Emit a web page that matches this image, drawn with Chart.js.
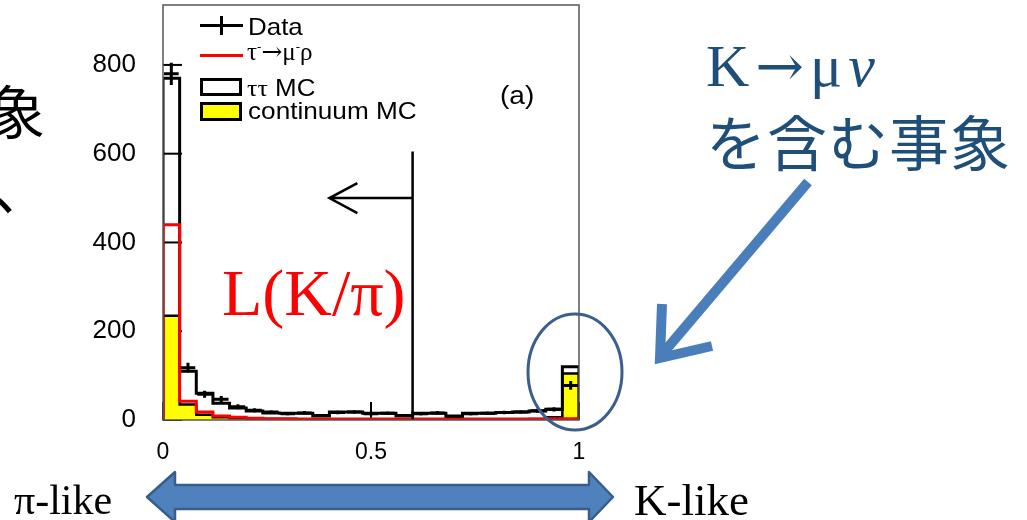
<!DOCTYPE html>
<html>
<head>
<meta charset="utf-8">
<script src="https://cdn.jsdelivr.net/npm/chart.js@4.4.1/dist/chart.umd.min.js"></script>
<style>
  html, body { margin: 0; padding: 0; background: #fff; }
  #wrap { position: relative; width: 1027px; height: 520px; overflow: hidden; }
  #wrap canvas { position: absolute; left: 0; top: 0; }
  .t { position: absolute; white-space: nowrap; line-height: 1; transform-origin: 0 0; }
  .sans { font-family: 'Liberation Sans', Arial, sans-serif; }
  .serif { font-family: 'Liberation Serif', 'Times New Roman', serif; }
  .cjk { font-family: 'Noto Sans CJK JP', sans-serif; }
  .arr { font-family: 'DejaVu Serif', serif; }
  .sym { position: absolute; box-sizing: border-box; }
</style>
</head>
<body>
<div id="wrap">
  <canvas id="histChart" width="1027" height="520"></canvas>

  <!-- legend -->
  <div class="sym" style="left:200px;top:24px;width:43px;height:3px;background:#000"></div>
  <div class="sym" style="left:220px;top:16px;width:3px;height:19px;background:#000"></div>
  <div class="t sans" style="left:248px;top:15px;font-size:24px;transform:scaleX(1.08)">Data</div>
  <div class="sym" style="left:200px;top:54px;width:43px;height:3px;background:#ff0000"></div>
  <div class="t serif" style="left:247px;top:39px;font-size:25px">τ<sup style="font-size:13px">-</sup><span class="arr" style="font-size:25px">→</span>μ<sup style="font-size:13px">-</sup>ρ</div>
  <div class="sym" style="left:200px;top:78px;width:42px;height:18px;border:3px solid #000;background:#fff"></div>
  <div class="t" style="left:247px;top:76px;font-size:24px;transform:scaleX(1.08)"><span class="serif">ττ</span><span class="sans"> MC</span></div>
  <div class="sym" style="left:200px;top:102px;width:42px;height:19px;border:3px solid #000;background:#ffff00"></div>
  <div class="t sans" style="left:248px;top:99px;font-size:24px;transform:scaleX(1.09)">continuum MC</div>
  <div class="t sans" style="left:500px;top:83px;font-size:25px;transform:scaleX(1.12)">(a)</div>

  <!-- annotations -->
  <div class="t serif" style="left:222px;top:260px;font-size:66px;color:#ff0000">L(K/π)</div>
  <div class="t serif" style="left:706px;top:36px;font-size:60px;color:#1f4e79;letter-spacing:6px">K<span class="arr" style="font-size:58px">→</span>μ<i>ν</i></div>
  <div class="t cjk" style="left:706px;top:110px;font-size:60px;color:#1f4e79;letter-spacing:1px">を含む事象</div>
  <div class="t cjk" style="left:-13px;top:80px;font-size:58px;color:#000">象</div>
  <div class="t cjk" style="left:-8px;top:156px;font-size:58px;color:#000">、</div>
  <div class="t serif" style="left:14px;top:479px;font-size:42px">π-like</div>
  <div class="t serif" style="left:634px;top:478px;font-size:45px">K-like</div>
</div>

<script>
// histogram bins (0.04 wide) of the likelihood ratio L(K/pi)
const binEdges = [0, 0.04, 0.08, 0.12, 0.16, 0.2, 0.24, 0.28, 0.32, 0.36, 0.4, 0.44, 0.48,
                  0.52, 0.56, 0.6, 0.64, 0.68, 0.72, 0.76, 0.8, 0.84, 0.88, 0.92, 0.96, 1];

const dataValues = [780, 118, 58, 47, 30, 22, 18, 14, 16, 10, 17, 18, 14,
                    15, 10, 14, 16, 9, 14, 15, 17, 18, 21, 24, 78];
const dataErrors = [25, 11, 8, 7, 5.5, 4.7, 4.2, 3.7, 4, 3.2, 4.1, 4.2, 3.7,
                    3.9, 3.2, 3.7, 4, 3, 3.7, 3.9, 4.1, 4.2, 4.6, 4.9, 10];
const tautauMC = [770, 110, 60, 38, 27, 20, 16, 15, 15, 9, 18, 18, 15,
                  15, 9, 15, 15, 8, 15, 15, 17, 18, 20, 24, 120];
const signalMC = [440, 42, 18, 9, 6, 4, 3, 3, 2, 2, 2, 2, 2,
                  2, 2, 2, 2, 2, 2, 2, 2, 2, 2, 3, 3];
const continuumMC = [235, 35, 12, 6, 4, 3, 2, 2, 1, 1, 1, 1, 1,
                     1, 1, 1, 1, 1, 1, 1, 1, 1, 2, 6, 105];

const yTicks = [0, 200, 400, 600, 800];
const xTicks = [0, 0.5, 1];
const xTickLabels = ['0', '0.5', '1'];

// selection cut
const cutValue = 0.6;
const cutTop = 605;
const cutArrowY = 500;
const cutArrowTo = 0.4;

// outline of a histogram as step points (left edge of each bin)
const stepPoints = (vals) => {
    const last = binEdges.length - 1;
    const pts = [{ x: binEdges[0], y: 0 }];
    vals.forEach((v, i) => pts.push({ x: binEdges[i], y: v }));
    pts.push({ x: binEdges[last], y: vals[vals.length - 1] });
    pts.push({ x: binEdges[last], y: 0 });
    return pts;
};

const lineSet = (label, vals, color, order, extra) => Object.assign({
    type: 'line',
    label: label,
    data: stepPoints(vals),
    stepped: 'before',
    borderColor: color,
    borderWidth: 3,
    pointRadius: 0,
    fill: false,
    order: order
}, extra || {});

const histPlugin = {
    id: 'histDecor',
    beforeDatasetsDraw(chart) {
        const { ctx, chartArea: a, scales: { x, y } } = chart;
        ctx.save();
        ctx.strokeStyle = '#000';
        ctx.lineWidth = 2;
        // inward tick marks
        yTicks.forEach(v => {
            const py = y.getPixelForValue(v);
            ctx.beginPath();
            ctx.moveTo(a.left, py);
            ctx.lineTo(a.left + 19, py);
            ctx.stroke();
        });
        xTicks.forEach(v => {
            const px = x.getPixelForValue(v);
            ctx.beginPath();
            ctx.moveTo(px, a.bottom);
            ctx.lineTo(px, a.bottom - 18);
            ctx.stroke();
        });
        ctx.restore();
    },
    afterDatasetsDraw(chart) {
        const { ctx, chartArea: a, scales: { x, y } } = chart;
        ctx.save();
        // data points with error bars
        ctx.strokeStyle = '#000';
        ctx.lineWidth = 3;
        dataValues.forEach((v, i) => {
            const x0 = x.getPixelForValue(binEdges[i]);
            const x1 = x.getPixelForValue(binEdges[i + 1]);
            const xc = (x0 + x1) / 2;
            const py = y.getPixelForValue(v);
            ctx.beginPath();
            ctx.moveTo(x0 + 1, py);
            ctx.lineTo(x1 - 1, py);
            ctx.moveTo(xc, y.getPixelForValue(v - dataErrors[i]));
            ctx.lineTo(xc, y.getPixelForValue(v + dataErrors[i]));
            ctx.stroke();
        });

        // cut line and arrow
        const cx = x.getPixelForValue(cutValue);
        const ay = y.getPixelForValue(cutArrowY);
        const tx = x.getPixelForValue(cutArrowTo);
        ctx.lineWidth = 2.5;
        ctx.beginPath();
        ctx.moveTo(cx, y.getPixelForValue(0));
        ctx.lineTo(cx, y.getPixelForValue(cutTop));
        ctx.moveTo(cx, ay);
        ctx.lineTo(tx, ay);
        ctx.moveTo(tx + 28, ay - 15);
        ctx.lineTo(tx, ay);
        ctx.lineTo(tx + 28, ay + 15);
        ctx.stroke();

        // frame
        ctx.strokeStyle = '#555';
        ctx.lineWidth = 1.5;
        ctx.strokeRect(a.left, a.top, a.right - a.left, a.bottom - a.top);
        ctx.restore();
    },
    afterDraw(chart) {
        const ctx = chart.ctx;
        ctx.save();
        // ellipse round the last bin
        ctx.strokeStyle = '#3b5e8c';
        ctx.lineWidth = 3;
        ctx.beginPath();
        ctx.ellipse(575, 372, 47, 58, 0, 0, Math.PI * 2);
        ctx.stroke();

        // diagonal pointer arrow
        ctx.strokeStyle = '#4a7ebb';
        ctx.lineWidth = 10;
        ctx.lineJoin = 'miter';
        ctx.beginPath();
        ctx.moveTo(808, 182);
        ctx.lineTo(664, 352);
        ctx.stroke();
        ctx.beginPath();
        ctx.moveTo(662, 304);
        ctx.lineTo(660, 358);
        ctx.lineTo(712, 346);
        ctx.stroke();

        // pi-like / K-like double arrow
        ctx.fillStyle = '#4f81bd';
        ctx.strokeStyle = '#385d8a';
        ctx.lineWidth = 2.5;
        ctx.lineJoin = 'round';
        ctx.beginPath();
        ctx.moveTo(147, 497);
        ctx.lineTo(175, 472);
        ctx.lineTo(175, 485);
        ctx.lineTo(589, 485);
        ctx.lineTo(589, 472);
        ctx.lineTo(613, 497);
        ctx.lineTo(589, 522);
        ctx.lineTo(589, 509);
        ctx.lineTo(175, 509);
        ctx.lineTo(175, 522);
        ctx.closePath();
        ctx.fill();
        ctx.stroke();
        ctx.restore();
    }
};

new Chart(document.getElementById('histChart').getContext('2d'), {
    data: {
        datasets: [
            { type: 'scatter', label: 'Data', data: [], pointRadius: 0, order: 0 },
            lineSet('τ-→μ-ρ', signalMC, '#ff0000', 1),
            lineSet('ττ MC', tautauMC, '#000000', 2),
            lineSet('continuum MC', continuumMC, '#000000', 3,
                    { fill: 'origin', backgroundColor: '#ffff00', borderWidth: 2.5 })
        ]
    },
    options: {
        responsive: false,
        devicePixelRatio: 1,
        animation: false,
        events: [],
        layout: { padding: { left: 0, top: 5, right: 448, bottom: 0 } },
        plugins: {
            legend: { display: false },
            tooltip: { enabled: false }
        },
        scales: {
            x: {
                type: 'linear',
                min: 0,
                max: 1,
                afterFit: (s) => { s.height = 100; s.paddingLeft = 0; s.paddingRight = 0; },
                afterBuildTicks: (s) => { s.ticks = xTicks.map(v => ({ value: v })); },
                grid: { display: false, drawTicks: false },
                border: { display: false },
                ticks: {
                    padding: 19,
                    maxRotation: 0,
                    color: '#000',
                    font: { family: 'Liberation Sans', size: 23 },
                    callback: (v) => xTickLabels[xTicks.indexOf(v)]
                }
            },
            y: {
                type: 'linear',
                min: 0,
                max: 935,
                afterFit: (s) => { s.width = 163; s.paddingTop = 0; s.paddingBottom = 0; },
                afterBuildTicks: (s) => { s.ticks = yTicks.map(v => ({ value: v })); },
                grid: { display: false, drawTicks: false },
                border: { display: false },
                ticks: {
                    padding: 27,
                    color: '#000',
                    font: { family: 'Liberation Sans', size: 26 }
                }
            }
        }
    },
    plugins: [histPlugin]
});
</script>
</body>
</html>
